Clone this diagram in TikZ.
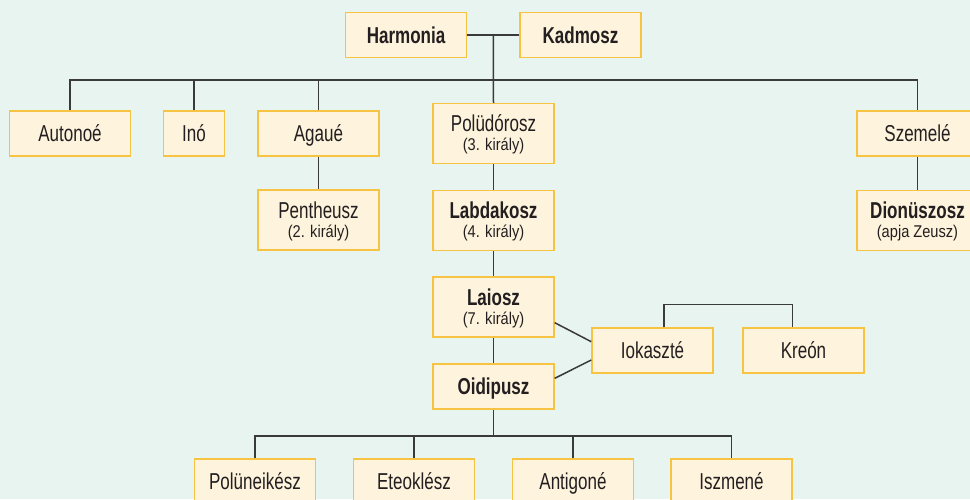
\documentclass[tikz,border=0pt]{standalone}
\usepackage{fontspec}
\setmainfont{Liberation Sans}[FakeStretch=0.74]
\newfontfamily\smallfnt{Liberation Sans}[FakeStretch=0.86]
\usetikzlibrary{calc}
\definecolor{bgc}{HTML}{E8F4EF}
\definecolor{boxfill}{HTML}{FEF3DC}
\definecolor{boxline}{HTML}{F6C342}
\definecolor{linec}{HTML}{3A3A3A}
\definecolor{txt}{HTML}{231F20}
\newcommand\nmfont{\fontsize{23}{27}\selectfont}
\newcommand\smfont{\smallfnt\fontsize{17}{20}\selectfont}
\tikzset{
  box/.style={draw=boxline, fill=boxfill, line width=1.5pt, minimum width=121pt,
    minimum height=45pt, inner sep=0pt, text height=16.5pt, text depth=0pt,
    font=\nmfont, text=txt},
  tall/.style={box, minimum height=60pt},
  lbl/.style={anchor=base, inner sep=0pt, font=\nmfont, text=txt},
  sub/.style={anchor=base, inner sep=0pt, font=\smfont, text=txt},
  conn/.style={draw=linec, line width=1.5pt},
}
\begin{document}
\begin{tikzpicture}[x=1pt,y=-1pt]
\fill[bgc] (0,0) rectangle (970,499);
\useasboundingbox (0,0) rectangle (970,499);
\begin{scope}
\clip (0,0) rectangle (970,499);
% nodes
\node[box] (harm) at (406,35) {\bfseries Harmonia};
\node[box] (kad) at (580.5,35) {\bfseries Kadmosz};
\node[box] (aut) at (70,133.5) {Autonoé};
\node[box, minimum width=61pt] (ino) at (194,133.5) {Inó};
\node[box] (aga) at (318.5,133.5) {Agaué};
\node[tall] (pol) at (493.5,133.5) {};
\node[box] (sze) at (917.5,133.5) {Szemelé};
\node[tall] (pen) at (318.5,220) {};
\node[tall] (lab) at (493.5,220.3) {};
\node[tall] (dio) at (917.5,220.3) {};
\node[tall] (lai) at (493.5,307) {};
\node[box] (iok) at (652.5,350.5) {Iokaszté};
\node[box] (kre) at (803.5,350.5) {Kreón};
\node[box] (oid) at (493.5,386.5) {\bfseries Oidipusz};
\node[box] (pn) at (255,481.5) {Polüneikész};
\node[box] (et) at (414,481.5) {Eteoklész};
\node[box] (an) at (573,481.5) {Antigoné};
\node[box] (isz) at (731.5,481.5) {Iszmené};
% two-line texts
\node[lbl] (polT) at ([yshift=2pt]pol.center) {Polüdórosz};
\node[sub] (polS) at ([yshift=-17pt]pol.center) {(3. király)};
\node[lbl] (penT) at ([yshift=2pt]pen.center) {Pentheusz};
\node[sub] (penS) at ([yshift=-17pt]pen.center) {(2. király)};
\node[lbl] (labT) at ([yshift=2pt]lab.center) {\bfseries Labdakosz};
\node[sub] (labS) at ([yshift=-17pt]lab.center) {(4. király)};
\node[lbl] (laiT) at ([yshift=2pt]lai.center) {\bfseries Laiosz};
\node[sub] (laiS) at ([yshift=-17pt]lai.center) {(7. király)};
\node[lbl] (dioT) at ([yshift=2pt]dio.center) {\bfseries Dionüszosz};
\node[sub] (dioS) at ([yshift=-17pt]dio.center) {(apja Zeusz)};
% connectors
\coordinate (hk) at ($(harm.east)!0.5!(kad.west)$);
\coordinate (bar) at (493.5,80);
\coordinate (bb) at (493.5,436);
\draw[conn] (harm.east) -- (kad.west);
\draw[conn] (hk) -- (pol.north);
\draw[conn] (aut.north) |- (bar) -| (sze.north);
\draw[conn] (ino.north) |- (bar);
\draw[conn] (aga.north) |- (bar);
\draw[conn] (aga.south) -- (pen.north);
\draw[conn] (pol.south) -- (lab.north);
\draw[conn] (lab.south) -- (lai.north);
\draw[conn] (lai.south) -- (oid.north);
\draw[conn] (sze.south) -- (dio.north);
\draw[conn] ([yshift=-15.7pt]lai.east) -- ([yshift=8.8pt]iok.west);
\draw[conn] ([yshift=8.2pt]oid.east) -- ([yshift=-9.5pt]iok.west);
\draw[conn] ([xshift=11.5pt]iok.north) -- ++(0,-22.7) -| ([xshift=-11pt]kre.north);
\draw[conn] (oid.south) -- (bb);
\draw[conn] (pn.north) |- (bb) -| (isz.north);
\draw[conn] (et.north) |- (bb);
\draw[conn] (an.north) |- (bb);
\end{scope}
\end{tikzpicture}
\end{document}
